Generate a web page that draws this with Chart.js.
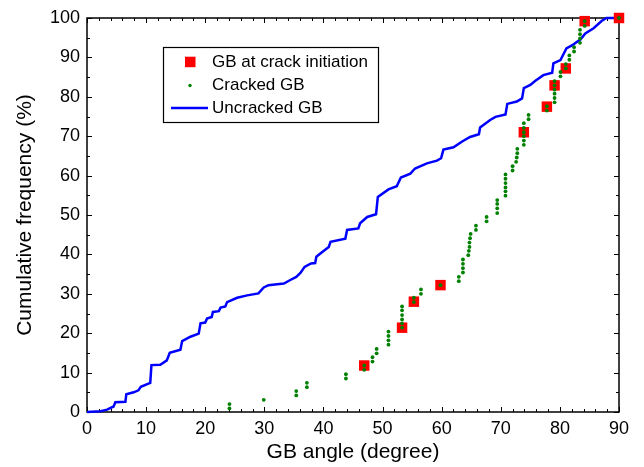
<!DOCTYPE html>
<html lang="en">
<head>
<meta charset="UTF-8">
<title>GB angle cumulative frequency</title>
<style>
  html, body { margin: 0; padding: 0; background: #fff; }
  #wrap { position: relative; width: 644px; height: 467px; }
  canvas { display: block; }
</style>
</head>
<body>
<div id="wrap"><canvas id="c" width="644" height="467"></canvas></div>
<script src="https://cdn.jsdelivr.net/npm/chart.js@4.4.1/dist/chart.umd.min.js"></script>
<script>
const FONT = 'Arial, "Liberation Sans", sans-serif';

// axis ticks
const xTicks = [0,10,20,30,40,50,60,70,80,90];
const yTicks = [0,10,20,30,40,50,60,70,80,90,100];

// uncracked GB: cumulative curve (angle, %)
const uncrackedAngle = [0,2.3,3.4,4.5,4.8,6.5,6.65,7.9,8.7,9.1,10.7,10.9,12.4,13.5,14.0,15.8,16.1,17.5,18.9,19.2,
  20.0,20.3,21.1,21.3,22.3,22.6,23.4,23.7,25.4,27.1,29.0,29.9,30.7,33.3,34.4,35.4,36.1,36.8,37.9,38.6,
  38.8,39.8,40.9,41.2,43.7,44.0,45.9,46.2,47.4,48.9,49.2,51.0,52.4,53.1,54.7,55.5,57.5,59.2,59.9,60.3,
  62.0,63.4,64.8,66.3,66.5,68.2,69.1,70.8,71.1,72.7,73.6,73.9,75.0,75.8,77.2,78.7,78.9,80.1,81.1,82.1,
  83.5,84.3,85.7,87.1,87.9,90];
const uncrackedFreq = [0,0.2,0.6,1.4,2.5,2.6,4.5,5.0,5.5,6.4,7.4,11.9,12.0,13.1,15.0,15.8,18.0,19.1,19.9,22.5,
  22.7,23.7,24.1,25.4,25.6,26.5,26.8,27.9,29.0,29.6,30.1,31.6,32.2,32.6,33.5,34.3,35.3,36.8,37.7,37.8,
  39.4,40.6,41.9,43.2,44.0,46.2,46.6,47.9,49.5,50.2,54.6,56.5,57.3,59.5,60.5,61.8,63.1,63.8,64.4,66.6,
  67.2,68.6,69.8,70.5,72.2,74.1,74.9,75.5,78.2,78.8,79.6,82.2,83.0,84.0,85.5,86.1,88.5,89.3,92.3,93.1,
  94.6,96.1,97.4,99.3,100,100];

// cracked GB points
const crackedAngle = [24.1,24.1,29.9,35.4,35.4,37.2,37.2,43.8,43.8,46.9,46.9,48.3,48.3,49.0,49.0,
  51.0,51.0,51.0,51.0,53.3,53.3,53.3,53.3,53.3,53.3,55.3,55.3,56.5,56.5,59.8,62.9,62.9,
  63.6,63.6,63.6,63.6,64.5,64.6,64.7,64.7,64.8,64.9,65.8,65.8,67.6,67.6,69.4,69.4,69.4,69.4,
  70.8,70.8,70.8,70.8,70.8,70.8,72.0,72.0,72.6,72.7,72.8,72.8,73.9,73.9,73.9,73.9,73.9,73.9,
  74.7,74.7,77.8,77.8,79.1,79.1,79.1,79.1,79.1,79.1,80.1,80.1,81.0,81.0,81.6,81.6,82.4,82.4,
  83.4,83.4,83.4,83.4,84.2,84.2,90.0];
const crackedFreq = [0.9,2.0,3.1,4.2,5.3,6.3,7.4,8.5,9.6,10.7,11.8,12.8,13.9,14.9,16.0,
  17.1,18.2,19.3,20.4,21.4,22.5,23.5,24.6,25.8,26.8,27.9,29.0,30.0,31.1,32.2,33.2,34.3,
  35.4,36.5,37.6,38.7,39.8,40.9,41.9,43.0,44.1,45.2,46.2,47.3,48.4,49.5,50.5,51.7,52.8,53.8,
  54.9,56.0,57.0,58.1,59.2,60.3,61.3,62.4,63.5,64.6,65.7,66.8,67.8,68.9,70.0,71.0,72.1,73.3,
  74.3,75.4,76.5,77.6,78.6,79.7,80.8,81.8,82.9,84.0,85.2,86.3,87.2,88.3,89.4,90.5,91.5,92.6,
  93.7,94.8,95.9,97.0,98.0,99.2,100];

// GB at crack initiation
const initAngle = [46.9,53.3,55.3,59.8,73.9,77.8,79.1,81.0,84.2,90.0];
const initFreq  = [11.8,21.4,28.0,32.2,71.0,77.5,82.9,87.2,99.2,100];

const pts = (xs, ys) => xs.map((v, i) => ({x: v, y: ys[i]}));

// box frame with inward ticks on all four sides
const frame = {
  id: 'frame',
  beforeDatasetsDraw(chart) {
    const {ctx, chartArea: a, scales: {x, y}} = chart;
    ctx.save();
    ctx.strokeStyle = '#000';
    ctx.lineWidth = 1;
    ctx.beginPath();
    for (let v = x.min; v <= x.max; v += 2) {
      const p = Math.round(x.getPixelForValue(v)) + 0.5;
      const len = v % 10 === 0 ? 5 : 3;
      ctx.moveTo(p, a.bottom); ctx.lineTo(p, a.bottom - len);
      ctx.moveTo(p, a.top); ctx.lineTo(p, a.top + len);
    }
    for (let v = y.min; v <= y.max; v += 5) {
      const p = Math.round(y.getPixelForValue(v)) + 0.5;
      const len = v % 10 === 0 ? 5 : 3;
      ctx.moveTo(a.left, p); ctx.lineTo(a.left + len, p);
      ctx.moveTo(a.right, p); ctx.lineTo(a.right - len, p);
    }
    ctx.stroke();
    ctx.lineWidth = 1.5;
    ctx.strokeRect(a.left, a.top, a.right - a.left, a.bottom - a.top);
    ctx.restore();
  }
};

// legend box inside the plot
const boxLegend = {
  id: 'boxLegend',
  afterDraw(chart) {
    const ctx = chart.ctx;
    const L = 163, T = 47, W = 215, H = 75;
    ctx.save();
    ctx.fillStyle = '#fff';
    ctx.fillRect(L, T, W, H);
    ctx.strokeStyle = '#000';
    ctx.lineWidth = 1.2;
    ctx.strokeRect(L + 0.5, T + 0.5, W, H);
    const rows = [62, 85.5, 108];
    ctx.fillStyle = '#ff0000';
    ctx.fillRect(185, rows[0] - 5.3, 10.5, 10.5);
    ctx.fillStyle = '#008000';
    ctx.beginPath(); ctx.arc(190, rows[1], 1.7, 0, Math.PI * 2); ctx.fill();
    ctx.strokeStyle = '#0000ff';
    ctx.lineWidth = 2.5;
    ctx.beginPath(); ctx.moveTo(171, rows[2]); ctx.lineTo(208, rows[2]); ctx.stroke();
    ctx.fillStyle = '#000';
    ctx.font = '17px ' + FONT;
    ctx.textBaseline = 'middle';
    ctx.fillText('GB at crack initiation', 212, rows[0]);
    ctx.fillText('Cracked GB', 212, rows[1]);
    ctx.fillText('Uncracked GB', 212, rows[2]);
    ctx.restore();
  }
};

new Chart(document.getElementById('c'), {
  type: 'scatter',
  data: {
    datasets: [
      {label: 'Cracked GB', data: pts(crackedAngle, crackedFreq), pointRadius: 1.9, backgroundColor: '#008000', borderWidth: 0, clip: false},
      {label: 'GB at crack initiation', data: pts(initAngle, initFreq), pointStyle: 'rect', pointRadius: 7.4, backgroundColor: '#ff0000', borderWidth: 0, clip: false},
      {label: 'Uncracked GB', data: pts(uncrackedAngle, uncrackedFreq), showLine: true, pointRadius: 0, borderColor: '#0000ff', borderWidth: 2.5, tension: 0, clip: false}
    ]
  },
  options: {
    responsive: false, animation: false,
    layout: {padding: {top: 18, right: 25, left: 0, bottom: 0}},
    plugins: {legend: {display: false}, tooltip: {enabled: false}},
    scales: {
      x: {
        type: 'linear', min: 0, max: 90,
        afterBuildTicks: s => { s.ticks = xTicks.map(v => ({value: v})); },
        grid: {display: false, drawTicks: false}, border: {display: false},
        ticks: {color: '#000', font: {family: FONT, size: 18}, padding: 6, maxRotation: 0},
        title: {display: true, text: 'GB angle (degree)', color: '#000', font: {family: FONT, size: 21}, padding: {top: 0, bottom: 2}},
        afterFit: s => { s.height = 55; s.paddingLeft = 0; s.paddingRight = 0; }
      },
      y: {
        type: 'linear', min: 0, max: 100,
        afterBuildTicks: s => { s.ticks = yTicks.map(v => ({value: v})); },
        grid: {display: false, drawTicks: false}, border: {display: false},
        ticks: {color: '#000', font: {family: FONT, size: 18}, padding: 7},
        title: {display: true, text: 'Cumulative frequency (%)', color: '#000', font: {family: FONT, size: 21}, padding: {top: 13, bottom: 0}},
        afterFit: s => { s.width = 87; s.paddingTop = 0; s.paddingBottom = 0; }
      }
    }
  },
  plugins: [frame, boxLegend]
});
</script>
</body>
</html>
